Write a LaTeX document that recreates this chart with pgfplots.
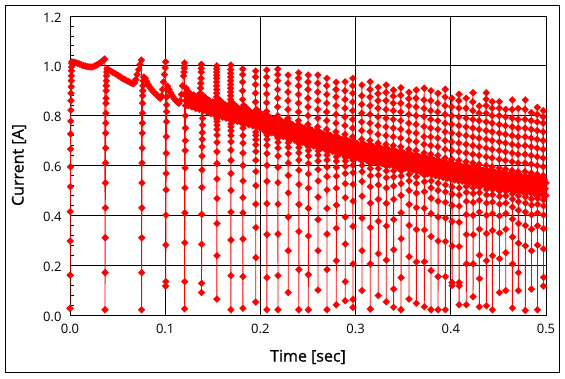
\documentclass[border=0pt]{standalone}
\usepackage{fontspec}
\setmainfont{Open Sans}
\newfontfamily\titlefont[FakeBold=1]{Open Sans}
\usepackage{pgfplots}
\pgfplotsset{compat=1.18}
\begin{document}
\begin{tikzpicture}[x=1pt,y=1pt]
\useasboundingbox (0,0) rectangle (565,379);
\draw[line width=0.9pt] (5,7) rectangle (559,374);
\begin{axis}[
  at={(70pt,64pt)}, anchor=south west,
  scale only axis, width=476pt, height=299pt,
  xmin=0, xmax=0.5, ymin=0, ymax=1.2,
  xtick={0,0.1,0.2,0.3,0.4,0.5},
  ytick={0,0.2,0.4,0.6,0.8,1.0,1.2},
  minor y tick num=4,
  xtick pos=bottom, ytick pos=left,
  tick align=inside,
  major tick length=0pt, minor tick length=4pt,
  grid=major,
  major grid style={black, line width=0.9pt},
  axis line style={black, line width=0.9pt},
  every tick/.style={black, line width=0.8pt},
  /pgf/number format/assume math mode=true,
  xticklabel style={font=\fontsize{13}{15}\selectfont, yshift=-6pt, /pgf/number format/.cd, fixed, fixed zerofill, precision=1},
  yticklabel style={font=\fontsize{13}{15}\selectfont, xshift=-5pt, yshift=-1.5pt, /pgf/number format/.cd, fixed, fixed zerofill, precision=1},
]
% dense band envelope (upper edge, then lower edge back)
\addplot[draw=none, fill=red] coordinates {
(0.122,0.905) (0.130,0.892) (0.140,0.875) (0.150,0.860) (0.175,0.833) (0.200,0.805) (0.225,0.775) (0.250,0.745) (0.275,0.717) (0.300,0.690) (0.325,0.670) (0.350,0.650) (0.375,0.627) (0.400,0.605) (0.425,0.587) (0.450,0.570) (0.475,0.555) (0.500,0.540)
(0.500,0.482) (0.475,0.496) (0.450,0.510) (0.425,0.527) (0.400,0.545) (0.375,0.567) (0.350,0.590) (0.325,0.610) (0.300,0.630) (0.275,0.657) (0.250,0.685) (0.225,0.715) (0.200,0.745) (0.175,0.775) (0.150,0.805) (0.140,0.818) (0.130,0.832) (0.122,0.845)
};
% band samples
\addplot[red, line width=0.8pt, mark=square*, mark size=2.5pt, mark options={rotate=45, fill=red, draw=red, line width=0.1pt}] coordinates {
(0.122,0.893) (0.124,0.840) (0.126,0.888) (0.128,0.835) (0.130,0.883) (0.132,0.830) (0.134,0.878) (0.136,0.825) (0.138,0.873) (0.140,0.820)
(0.142,0.867) (0.144,0.814) (0.146,0.861) (0.148,0.808) (0.150,0.855) (0.152,0.803) (0.154,0.851) (0.156,0.798) (0.158,0.846) (0.160,0.794)
(0.162,0.842) (0.164,0.790) (0.166,0.837) (0.168,0.785) (0.170,0.833) (0.172,0.781) (0.174,0.829) (0.176,0.777) (0.178,0.824) (0.180,0.772)
(0.182,0.820) (0.184,0.768) (0.186,0.816) (0.188,0.763) (0.190,0.811) (0.192,0.759) (0.194,0.807) (0.196,0.755) (0.198,0.802) (0.200,0.750)
(0.202,0.803) (0.204,0.740) (0.206,0.798) (0.208,0.735) (0.210,0.793) (0.212,0.731) (0.214,0.788) (0.216,0.726) (0.218,0.783) (0.220,0.721)
(0.222,0.779) (0.224,0.716) (0.226,0.774) (0.228,0.711) (0.230,0.769) (0.232,0.707) (0.234,0.764) (0.236,0.702) (0.238,0.759) (0.240,0.697)
(0.242,0.755) (0.244,0.692) (0.246,0.750) (0.248,0.687) (0.250,0.745) (0.252,0.683) (0.254,0.741) (0.256,0.678) (0.258,0.736) (0.260,0.674)
(0.262,0.732) (0.264,0.670) (0.266,0.727) (0.268,0.665) (0.270,0.723) (0.272,0.661) (0.274,0.719) (0.276,0.656) (0.278,0.714) (0.280,0.652)
(0.282,0.710) (0.284,0.648) (0.286,0.705) (0.288,0.643) (0.290,0.701) (0.292,0.639) (0.294,0.697) (0.296,0.634) (0.298,0.692) (0.300,0.630)
(0.302,0.688) (0.304,0.627) (0.306,0.685) (0.308,0.624) (0.310,0.682) (0.312,0.620) (0.314,0.679) (0.316,0.617) (0.318,0.676) (0.320,0.614)
(0.322,0.672) (0.324,0.611) (0.326,0.669) (0.328,0.608) (0.330,0.666) (0.332,0.604) (0.334,0.663) (0.336,0.601) (0.338,0.660) (0.340,0.598)
(0.342,0.656) (0.344,0.595) (0.346,0.653) (0.348,0.592) (0.350,0.650) (0.352,0.588) (0.354,0.646) (0.356,0.585) (0.358,0.643) (0.360,0.581)
(0.362,0.639) (0.364,0.577) (0.366,0.636) (0.368,0.574) (0.370,0.632) (0.372,0.570) (0.374,0.628) (0.376,0.567) (0.378,0.625) (0.380,0.563)
(0.382,0.621) (0.384,0.559) (0.386,0.618) (0.388,0.556) (0.390,0.614) (0.392,0.552) (0.394,0.610) (0.396,0.549) (0.398,0.607) (0.400,0.545)
(0.402,0.604) (0.404,0.542) (0.406,0.601) (0.408,0.539) (0.410,0.598) (0.412,0.537) (0.414,0.595) (0.416,0.534) (0.418,0.592) (0.420,0.531)
(0.422,0.590) (0.424,0.528) (0.426,0.587) (0.428,0.525) (0.430,0.584) (0.432,0.523) (0.434,0.581) (0.436,0.520) (0.438,0.578) (0.440,0.517)
(0.442,0.576) (0.444,0.514) (0.446,0.573) (0.448,0.511) (0.450,0.570) (0.452,0.509) (0.454,0.568) (0.456,0.506) (0.458,0.565) (0.460,0.504)
(0.462,0.563) (0.464,0.502) (0.466,0.560) (0.468,0.499) (0.470,0.558) (0.472,0.497) (0.474,0.556) (0.476,0.494) (0.478,0.553) (0.480,0.492)
(0.482,0.551) (0.484,0.490) (0.486,0.548) (0.488,0.487) (0.490,0.546) (0.492,0.485) (0.494,0.544) (0.496,0.482) (0.498,0.541) (0.500,0.480)
};
% measured current with pulses
\addplot[red, line width=0.8pt, mark=square*, mark size=2.5pt, mark options={rotate=45, fill=red, draw=red, line width=0.1pt}] coordinates {
(0,0.027) (0.0001,0.16) (0.0002,0.297) (0.0003,0.415) (0.0004,0.515) (0.0005,0.595) (0.0006,0.666) (0.0007,0.726) (0.0008,0.778) (0.0009,0.822) (0.0010,0.860) (0.0011,0.890) (0.0012,0.916) (0.0013,0.940) (0.0014,0.960) (0.0015,0.980) (0.0016,0.995) (0.0018,1.010)
(0.0020,1.016) (0.0040,1.015) (0.0060,1.013) (0.0080,1.010) (0.0100,1.007) (0.0120,1.004) (0.0140,1.001) (0.0160,0.999) (0.0180,0.997) (0.0200,0.996) (0.0220,0.995) (0.0240,0.996) (0.0260,0.999) (0.0280,1.003) (0.0300,1.008) (0.0320,1.013) (0.0340,1.019) (0.0355,1.024) (0.0365,1.027)
(0.0368,0.021) (0.0369,0.17) (0.0370,0.31) (0.0371,0.43) (0.0372,0.53) (0.0373,0.61) (0.0374,0.67) (0.0375,0.73) (0.0376,0.77) (0.0377,0.81) (0.0378,0.85) (0.0379,0.87) (0.0380,0.90) (0.0381,0.92) (0.0382,0.94) (0.0384,0.96) (0.0386,0.975)
(0.0390,0.988) (0.0410,0.983) (0.0430,0.979) (0.0450,0.974) (0.0470,0.970) (0.0490,0.965) (0.0510,0.960) (0.0530,0.955) (0.0550,0.950) (0.0570,0.946) (0.0590,0.942) (0.0610,0.938) (0.0630,0.934) (0.0650,0.930) (0.0665,0.928) (0.0678,0.932) (0.0690,0.945) (0.0705,0.965) (0.0720,0.985) (0.0735,1.005) (0.0750,1.023)
(0.0752,0.021) (0.0753,0.17) (0.0754,0.31) (0.0755,0.43) (0.0756,0.53) (0.0757,0.61) (0.0758,0.67) (0.0759,0.73) (0.0760,0.77) (0.0761,0.81) (0.0762,0.85) (0.0763,0.88) (0.0764,0.90) (0.0766,0.92) (0.0768,0.94)
(0.0775,0.955) (0.0790,0.950) (0.0805,0.938) (0.0820,0.926) (0.0835,0.916) (0.0850,0.908) (0.0865,0.901) (0.0880,0.895) (0.0895,0.889) (0.0910,0.884) (0.0925,0.878) (0.0940,0.872) (0.0952,0.870) (0.0962,0.880) (0.0972,0.905) (0.0982,0.935) (0.0992,0.965) (0.1000,0.992) (0.1004,1.016)
(0.1005,0.116) (0.1006,0.134) (0.1007,0.281) (0.1008,0.401) (0.1009,0.502) (0.1010,0.568) (0.1011,0.649) (0.1012,0.716) (0.1013,0.776) (0.1014,0.816) (0.1015,0.843) (0.1016,0.875) (0.1018,0.906)
(0.1025,0.918) (0.1040,0.905) (0.1055,0.893) (0.1070,0.883) (0.1085,0.874) (0.1100,0.866) (0.1115,0.859) (0.1130,0.853) (0.1145,0.850) (0.1158,0.860) (0.1170,0.885) (0.1182,0.920) (0.1193,0.960) (0.1197,0.975) (0.1200,0.990) (0.1202,1.000) (0.1203,1.012)
(0.1204,0.025) (0.1205,0.134) (0.1206,0.29) (0.1207,0.41) (0.1208,0.51) (0.1209,0.59) (0.1210,0.66) (0.1211,0.70) (0.1212,0.75) (0.1213,0.80) (0.1214,0.84) (0.1215,0.86) (0.1216,0.88)
(0.1222,0.910) (0.1234,0.872) (0.1246,0.895) (0.1258,0.858) (0.1270,0.880) (0.1282,0.845) (0.1294,0.867) (0.1306,0.835) (0.1318,0.858) (0.1330,0.830) (0.1342,0.852) (0.1354,0.838) (0.1364,0.870) (0.1368,0.890) (0.1371,0.910) (0.1373,0.930) (0.1376,0.950) (0.1378,0.975) (0.1379,0.990) (0.1380,1.006)
(0.1381,0.090) (0.1382,0.127) (0.1383,0.284) (0.1384,0.404) (0.1385,0.512) (0.1386,0.582) (0.1387,0.638) (0.1388,0.675) (0.1389,0.705) (0.1390,0.732) (0.1391,0.762) (0.1392,0.789) (0.1393,0.823)
(0.1400,0.880) (0.1412,0.848) (0.1424,0.872) (0.1436,0.840) (0.1448,0.864) (0.1460,0.832) (0.1472,0.856) (0.1484,0.825) (0.1496,0.849) (0.1508,0.818) (0.1520,0.842) (0.1532,0.812)
(0.1540,0.86) (0.1540,0.875) (0.1540,0.89) (0.1540,0.905) (0.1540,0.92) (0.1540,0.935) (0.1540,0.95) (0.1540,0.962) (0.1540,0.975) (0.1541,0.988) (0.1542,1.000) (0.1543,0.064) (0.1544,0.238) (0.1544,0.367) (0.1544,0.468) (0.1544,0.546) (0.1544,0.608) (0.1544,0.655) (0.1544,0.693) (0.1544,0.722) (0.1544,0.745) (0.1544,0.762) (0.1544,0.776) (0.1544,0.787)
(0.1552,0.870) (0.1565,0.835) (0.1578,0.860) (0.1591,0.826) (0.1604,0.851) (0.1617,0.818) (0.1630,0.843) (0.1643,0.810) (0.1656,0.835) (0.1669,0.803) (0.1681,0.826)
(0.1687,0.85) (0.1687,0.865) (0.1687,0.88) (0.1687,0.895) (0.1687,0.91) (0.1687,0.925) (0.1687,0.94) (0.1687,0.955) (0.1687,0.97) (0.1688,0.985) (0.1689,1.003) (0.1690,0.021) (0.1691,0.158) (0.1691,0.301) (0.1691,0.413) (0.1691,0.500) (0.1691,0.568) (0.1691,0.621) (0.1691,0.662) (0.1691,0.695) (0.1691,0.720) (0.1691,0.739) (0.1691,0.755) (0.1691,0.767)
(0.1698,0.855) (0.1711,0.820) (0.1724,0.845) (0.1737,0.811) (0.1750,0.836) (0.1763,0.802) (0.1776,0.827) (0.1789,0.794) (0.1802,0.818)
(0.1813,0.83) (0.1813,0.865) (0.1813,0.90) (0.1813,0.935) (0.1813,0.965) (0.1815,0.987) (0.1816,0.027) (0.1817,0.154) (0.1817,0.305) (0.1817,0.410) (0.1817,0.471) (0.1817,0.538) (0.1817,0.600) (0.1817,0.650) (0.1817,0.690) (0.1817,0.720) (0.1817,0.750) (0.1817,0.770)
(0.1824,0.842) (0.1837,0.806) (0.1850,0.832) (0.1863,0.797) (0.1876,0.822) (0.1889,0.789) (0.1902,0.813) (0.1915,0.781) (0.1928,0.805) (0.1941,0.774)
(0.1948,0.82) (0.1948,0.855) (0.1948,0.89) (0.1948,0.925) (0.1948,0.955) (0.1950,0.979) (0.1951,0.052) (0.1952,0.230) (0.1952,0.351) (0.1952,0.445) (0.1952,0.519) (0.1952,0.576) (0.1952,0.621) (0.1952,0.656) (0.1952,0.683) (0.1952,0.704) (0.1952,0.721) (0.1952,0.734)
(0.1959,0.825) (0.1972,0.790) (0.1985,0.815) (0.1998,0.781) (0.2011,0.805) (0.2024,0.772) (0.2037,0.796) (0.2050,0.764) (0.2060,0.785)
(0.2065,0.817) (0.2065,0.852) (0.2065,0.887) (0.2065,0.922) (0.2065,0.955) (0.2067,0.983) (0.2068,0.021) (0.2069,0.150) (0.2069,0.323) (0.2069,0.447) (0.2069,0.537) (0.2069,0.601) (0.2069,0.648) (0.2069,0.681) (0.2069,0.705) (0.2069,0.722)
(0.2076,0.800) (0.2089,0.748) (0.2102,0.790) (0.2115,0.742) (0.2128,0.782) (0.2141,0.736) (0.2154,0.775) (0.2167,0.730) (0.2177,0.765)
(0.2181,0.80) (0.2181,0.835) (0.2181,0.87) (0.2181,0.905) (0.2181,0.94) (0.2181,0.965) (0.2183,0.987) (0.2184,0.021) (0.2185,0.158) (0.2185,0.325) (0.2185,0.445) (0.2185,0.531) (0.2185,0.593) (0.2185,0.638) (0.2185,0.670) (0.2185,0.693) (0.2185,0.710)
(0.2192,0.786) (0.2205,0.736) (0.2218,0.777) (0.2231,0.730) (0.2244,0.770) (0.2257,0.724) (0.2270,0.763) (0.2283,0.720)
(0.2289,0.79) (0.2289,0.825) (0.2289,0.86) (0.2289,0.895) (0.2289,0.93) (0.2291,0.963) (0.2292,0.090) (0.2293,0.258) (0.2293,0.393) (0.2293,0.490) (0.2293,0.560) (0.2293,0.610) (0.2293,0.647) (0.2293,0.673) (0.2293,0.692)
(0.2300,0.773) (0.2313,0.724) (0.2326,0.765) (0.2339,0.718) (0.2352,0.758) (0.2365,0.712) (0.2378,0.751) (0.2391,0.708)
(0.2400,0.78) (0.2400,0.815) (0.2400,0.85) (0.2400,0.885) (0.2400,0.92) (0.2400,0.95) (0.2402,0.972) (0.2403,0.021) (0.2404,0.182) (0.2404,0.335) (0.2404,0.444) (0.2404,0.524) (0.2404,0.581) (0.2404,0.622) (0.2404,0.651) (0.2404,0.672) (0.2404,0.688)
(0.2411,0.760) (0.2424,0.711) (0.2437,0.752) (0.2450,0.705) (0.2463,0.745) (0.2476,0.700) (0.2489,0.738) (0.2497,0.698)
(0.2500,0.765) (0.2500,0.80) (0.2500,0.835) (0.2500,0.87) (0.2500,0.905) (0.2500,0.935) (0.2502,0.963) (0.2503,0.021) (0.2504,0.162) (0.2504,0.317) (0.2504,0.428) (0.2504,0.509) (0.2504,0.566) (0.2504,0.608) (0.2504,0.638) (0.2504,0.660) (0.2504,0.675)
(0.2511,0.748) (0.2524,0.700) (0.2537,0.741) (0.2550,0.694) (0.2563,0.734) (0.2576,0.689) (0.2589,0.727) (0.2598,0.686)
(0.2602,0.755) (0.2602,0.79) (0.2602,0.825) (0.2602,0.86) (0.2602,0.895) (0.2602,0.93) (0.2604,0.963) (0.2605,0.100) (0.2606,0.258) (0.2606,0.383) (0.2606,0.473) (0.2606,0.538) (0.2606,0.584) (0.2606,0.618) (0.2606,0.642) (0.2606,0.659)
(0.2613,0.737) (0.2626,0.689) (0.2639,0.730) (0.2652,0.683) (0.2665,0.722) (0.2678,0.677) (0.2691,0.715)
(0.2696,0.745) (0.2696,0.78) (0.2696,0.815) (0.2696,0.85) (0.2696,0.885) (0.2696,0.92) (0.2698,0.950) (0.2699,0.021) (0.2700,0.182) (0.2700,0.325) (0.2700,0.428) (0.2700,0.502) (0.2700,0.556) (0.2700,0.594) (0.2700,0.622) (0.2700,0.642)
(0.2707,0.726) (0.2720,0.678) (0.2733,0.719) (0.2746,0.672) (0.2759,0.712) (0.2772,0.667) (0.2785,0.705)
(0.2794,0.735) (0.2794,0.77) (0.2794,0.805) (0.2794,0.84) (0.2794,0.875) (0.2794,0.905) (0.2796,0.934) (0.2797,0.041) (0.2798,0.218) (0.2798,0.348) (0.2798,0.441) (0.2798,0.509) (0.2798,0.557) (0.2798,0.592) (0.2798,0.617) (0.2798,0.635)
(0.2805,0.715) (0.2818,0.668) (0.2831,0.708) (0.2844,0.662) (0.2857,0.701) (0.2870,0.657) (0.2883,0.694)
(0.2888,0.725) (0.2888,0.76) (0.2888,0.795) (0.2888,0.83) (0.2888,0.865) (0.2888,0.90) (0.2890,0.936) (0.2891,0.057) (0.2892,0.134) (0.2892,0.285) (0.2892,0.393) (0.2892,0.471) (0.2892,0.527) (0.2892,0.568) (0.2892,0.597) (0.2892,0.618) (0.2892,0.633)
(0.2899,0.704) (0.2912,0.657) (0.2925,0.697) (0.2938,0.652) (0.2951,0.690) (0.2964,0.648)
(0.2969,0.715) (0.2969,0.75) (0.2969,0.785) (0.2969,0.82) (0.2969,0.855) (0.2969,0.89) (0.2969,0.92) (0.2971,0.950) (0.2972,0.030) (0.2973,0.063) (0.2973,0.205) (0.2973,0.356) (0.2973,0.457) (0.2973,0.525) (0.2973,0.571) (0.2973,0.601) (0.2973,0.622)
(0.2980,0.695) (0.2993,0.650) (0.3006,0.688) (0.3019,0.645) (0.3032,0.682) (0.3045,0.640) (0.3058,0.676)
(0.3064,0.705) (0.3064,0.74) (0.3064,0.775) (0.3064,0.81) (0.3064,0.845) (0.3064,0.88) (0.3066,0.923) (0.3067,0.098) (0.3068,0.258) (0.3068,0.389) (0.3068,0.477) (0.3068,0.536) (0.3068,0.575) (0.3068,0.601) (0.3068,0.619)
(0.3075,0.688) (0.3088,0.643) (0.3101,0.681) (0.3114,0.638) (0.3127,0.675) (0.3140,0.634)
(0.3151,0.70) (0.3151,0.735) (0.3151,0.77) (0.3151,0.805) (0.3151,0.84) (0.3151,0.875) (0.3151,0.905) (0.3153,0.936) (0.3154,0.024) (0.3155,0.205) (0.3155,0.351) (0.3155,0.449) (0.3155,0.515) (0.3155,0.559) (0.3155,0.588) (0.3155,0.608)
(0.3162,0.680) (0.3175,0.636) (0.3188,0.674) (0.3201,0.631) (0.3214,0.668) (0.3227,0.627)
(0.3235,0.69) (0.3235,0.725) (0.3235,0.76) (0.3235,0.795) (0.3235,0.83) (0.3235,0.86) (0.3235,0.888) (0.3237,0.914) (0.3238,0.078) (0.3239,0.246) (0.3239,0.376) (0.3239,0.464) (0.3239,0.522) (0.3239,0.561) (0.3239,0.588) (0.3239,0.605)
(0.3246,0.673) (0.3259,0.629) (0.3272,0.667) (0.3285,0.624) (0.3298,0.661) (0.3311,0.620)
(0.3319,0.685) (0.3319,0.72) (0.3319,0.755) (0.3319,0.79) (0.3319,0.825) (0.3319,0.86) (0.3319,0.893) (0.3321,0.923) (0.3322,0.053) (0.3323,0.220) (0.3323,0.357) (0.3323,0.448) (0.3323,0.510) (0.3323,0.551) (0.3323,0.578) (0.3323,0.597)
(0.3330,0.666) (0.3343,0.623) (0.3356,0.660) (0.3369,0.618) (0.3382,0.655) (0.3392,0.615)
(0.3396,0.68) (0.3396,0.715) (0.3396,0.75) (0.3396,0.785) (0.3396,0.82) (0.3396,0.85) (0.3396,0.878) (0.3398,0.903) (0.3399,0.031) (0.3400,0.104) (0.3400,0.262) (0.3400,0.383) (0.3400,0.464) (0.3400,0.518) (0.3400,0.554) (0.3400,0.579)
(0.3407,0.660) (0.3420,0.617) (0.3433,0.654) (0.3446,0.612) (0.3459,0.649) (0.3470,0.609)
(0.3474,0.675) (0.3474,0.71) (0.3474,0.745) (0.3474,0.78) (0.3474,0.815) (0.3474,0.85) (0.3474,0.882) (0.3476,0.912) (0.3477,0.021) (0.3478,0.150) (0.3478,0.306) (0.3478,0.410) (0.3478,0.480) (0.3478,0.527) (0.3478,0.558) (0.3478,0.579)
(0.3485,0.654) (0.3498,0.611) (0.3511,0.648) (0.3524,0.606) (0.3537,0.643) (0.3550,0.602)
(0.3558,0.665) (0.3558,0.70) (0.3558,0.735) (0.3558,0.77) (0.3558,0.805) (0.3558,0.84) (0.3558,0.868) (0.3560,0.894) (0.3561,0.064) (0.3562,0.234) (0.3562,0.360) (0.3562,0.444) (0.3562,0.500) (0.3562,0.538) (0.3562,0.564)
(0.3569,0.647) (0.3582,0.604) (0.3595,0.641) (0.3608,0.599) (0.3621,0.636) (0.3631,0.596)
(0.3635,0.66) (0.3635,0.695) (0.3635,0.73) (0.3635,0.765) (0.3635,0.80) (0.3635,0.835) (0.3635,0.87) (0.3637,0.903) (0.3638,0.047) (0.3639,0.213) (0.3639,0.343) (0.3639,0.431) (0.3639,0.489) (0.3639,0.528) (0.3639,0.555)
(0.3646,0.640) (0.3659,0.597) (0.3672,0.634) (0.3685,0.592) (0.3698,0.628) (0.3711,0.588)
(0.3719,0.65) (0.3719,0.685) (0.3719,0.716) (0.3719,0.756) (0.3719,0.796) (0.3719,0.829) (0.3719,0.863) (0.3721,0.910) (0.3722,0.033) (0.3723,0.214) (0.3723,0.341) (0.3723,0.428) (0.3723,0.495) (0.3723,0.535) (0.3723,0.561)
(0.3730,0.632) (0.3743,0.590) (0.3756,0.627) (0.3769,0.585) (0.3782,0.622)
(0.3789,0.645) (0.3789,0.68) (0.3789,0.715) (0.3789,0.75) (0.3789,0.785) (0.3789,0.82) (0.3789,0.86) (0.3791,0.900) (0.3792,0.021) (0.3793,0.178) (0.3793,0.315) (0.3793,0.407) (0.3793,0.469) (0.3793,0.510) (0.3793,0.538)
(0.3800,0.626) (0.3813,0.583) (0.3826,0.620) (0.3839,0.578) (0.3852,0.615) (0.3860,0.576)
(0.3863,0.64) (0.3863,0.675) (0.3863,0.71) (0.3863,0.745) (0.3863,0.78) (0.3863,0.815) (0.3863,0.85) (0.3865,0.890) (0.3866,0.021) (0.3867,0.154) (0.3867,0.297) (0.3867,0.393) (0.3867,0.457) (0.3867,0.500) (0.3867,0.529)
(0.3874,0.619) (0.3887,0.576) (0.3900,0.613) (0.3913,0.571) (0.3926,0.608) (0.3936,0.568)
(0.3940,0.63) (0.3940,0.665) (0.3940,0.70) (0.3940,0.735) (0.3940,0.77) (0.3940,0.805) (0.3940,0.84) (0.3940,0.875) (0.3942,0.906) (0.3943,0.021) (0.3944,0.154) (0.3944,0.295) (0.3944,0.389) (0.3944,0.452) (0.3944,0.494) (0.3944,0.522)
(0.3951,0.612) (0.3964,0.569) (0.3977,0.606) (0.3990,0.565) (0.4003,0.601)
(0.4010,0.625) (0.4010,0.66) (0.4010,0.695) (0.4010,0.73) (0.4010,0.765) (0.4010,0.80) (0.4010,0.835) (0.4012,0.870) (0.4013,0.118) (0.4014,0.130) (0.4014,0.277) (0.4014,0.375) (0.4014,0.440) (0.4014,0.485) (0.4014,0.514)
(0.4021,0.606) (0.4034,0.564) (0.4047,0.600) (0.4060,0.560) (0.4073,0.596)
(0.4084,0.62) (0.4084,0.655) (0.4084,0.69) (0.4084,0.725) (0.4084,0.76) (0.4084,0.795) (0.4084,0.83) (0.4084,0.86) (0.4086,0.886) (0.4087,0.041) (0.4088,0.117) (0.4088,0.130) (0.4088,0.275) (0.4088,0.372) (0.4088,0.437) (0.4088,0.481) (0.4088,0.510)
(0.4095,0.600) (0.4108,0.559) (0.4121,0.595) (0.4134,0.555) (0.4147,0.591) (0.4156,0.553)
(0.4160,0.615) (0.4160,0.65) (0.4160,0.685) (0.4160,0.72) (0.4160,0.755) (0.4160,0.79) (0.4160,0.83) (0.4162,0.870) (0.4163,0.041) (0.4164,0.205) (0.4164,0.323) (0.4164,0.403) (0.4164,0.456) (0.4164,0.492) (0.4164,0.516)
(0.4171,0.595) (0.4184,0.554) (0.4197,0.590) (0.4210,0.550) (0.4223,0.586)
(0.4231,0.61) (0.4231,0.645) (0.4231,0.68) (0.4231,0.715) (0.4231,0.75) (0.4231,0.785) (0.4231,0.82) (0.4231,0.855) (0.4233,0.892) (0.4234,0.073) (0.4235,0.205) (0.4235,0.322) (0.4235,0.400) (0.4235,0.452) (0.4235,0.488) (0.4235,0.511)
(0.4242,0.590) (0.4255,0.549) (0.4268,0.585) (0.4281,0.545) (0.4292,0.581)
(0.4297,0.605) (0.4297,0.64) (0.4297,0.675) (0.4297,0.71) (0.4297,0.745) (0.4297,0.78) (0.4297,0.81) (0.4299,0.839) (0.4300,0.033) (0.4301,0.146) (0.4301,0.240) (0.4301,0.344) (0.4301,0.413) (0.4301,0.460) (0.4301,0.491) (0.4301,0.512)
(0.4308,0.585) (0.4321,0.545) (0.4334,0.580) (0.4347,0.541) (0.4360,0.576)
(0.4371,0.60) (0.4371,0.635) (0.4371,0.67) (0.4371,0.705) (0.4371,0.74) (0.4371,0.775) (0.4371,0.81) (0.4371,0.84) (0.4371,0.866) (0.4373,0.892) (0.4374,0.037) (0.4375,0.218) (0.4375,0.327) (0.4375,0.400) (0.4375,0.449) (0.4375,0.482) (0.4375,0.504)
(0.4382,0.580) (0.4395,0.540) (0.4408,0.576) (0.4421,0.536) (0.4430,0.572)
(0.4434,0.595) (0.4434,0.63) (0.4434,0.665) (0.4434,0.70) (0.4434,0.735) (0.4434,0.77) (0.4434,0.80) (0.4434,0.83) (0.4436,0.856) (0.4437,0.021) (0.4438,0.238) (0.4438,0.339) (0.4438,0.407) (0.4438,0.453) (0.4438,0.483) (0.4438,0.504)
(0.4445,0.576) (0.4458,0.536) (0.4471,0.571) (0.4484,0.532) (0.4497,0.567)
(0.4508,0.59) (0.4508,0.625) (0.4508,0.66) (0.4508,0.695) (0.4508,0.73) (0.4508,0.765) (0.4508,0.80) (0.4508,0.83) (0.4510,0.856) (0.4511,0.090) (0.4512,0.226) (0.4512,0.329) (0.4512,0.398) (0.4512,0.445) (0.4512,0.476) (0.4512,0.497)
(0.4519,0.570) (0.4532,0.530) (0.4545,0.566) (0.4558,0.527) (0.4569,0.563)
(0.4574,0.585) (0.4574,0.62) (0.4574,0.655) (0.4574,0.69) (0.4574,0.725) (0.4574,0.76) (0.4574,0.795) (0.4576,0.825) (0.4577,0.098) (0.4578,0.250) (0.4578,0.344) (0.4578,0.407) (0.4578,0.449) (0.4578,0.478) (0.4578,0.497)
(0.4585,0.566) (0.4598,0.527) (0.4611,0.562) (0.4624,0.523) (0.4637,0.558)
(0.4644,0.58) (0.4644,0.615) (0.4644,0.65) (0.4644,0.685) (0.4644,0.72) (0.4644,0.755) (0.4644,0.79) (0.4644,0.825) (0.4646,0.863) (0.4647,0.028) (0.4648,0.205) (0.4648,0.313) (0.4648,0.385) (0.4648,0.433) (0.4648,0.465) (0.4648,0.487)
(0.4655,0.562) (0.4668,0.523) (0.4681,0.558) (0.4694,0.520) (0.4703,0.555)
(0.4707,0.575) (0.4707,0.61) (0.4707,0.645) (0.4707,0.68) (0.4707,0.715) (0.4707,0.75) (0.4707,0.785) (0.4709,0.829) (0.4710,0.098) (0.4711,0.170) (0.4711,0.288) (0.4711,0.367) (0.4711,0.420) (0.4711,0.455) (0.4711,0.479)
(0.4718,0.558) (0.4731,0.519) (0.4744,0.554) (0.4757,0.516) (0.4770,0.551)
(0.4780,0.575) (0.4780,0.61) (0.4780,0.645) (0.4780,0.68) (0.4780,0.715) (0.4780,0.75) (0.4780,0.785) (0.4780,0.825) (0.4782,0.863) (0.4783,0.018) (0.4784,0.278) (0.4784,0.359) (0.4784,0.413) (0.4784,0.449) (0.4784,0.474)
(0.4791,0.554) (0.4804,0.516) (0.4817,0.550) (0.4830,0.512) (0.4840,0.547)
(0.4844,0.57) (0.4844,0.605) (0.4844,0.64) (0.4844,0.675) (0.4844,0.71) (0.4844,0.745) (0.4844,0.78) (0.4846,0.812) (0.4847,0.104) (0.4848,0.258) (0.4848,0.344) (0.4848,0.402) (0.4848,0.441) (0.4848,0.466)
(0.4855,0.550) (0.4868,0.512) (0.4881,0.546) (0.4894,0.509) (0.4903,0.543)
(0.4907,0.565) (0.4907,0.60) (0.4907,0.635) (0.4907,0.67) (0.4907,0.705) (0.4907,0.74) (0.4907,0.775) (0.4907,0.805) (0.4909,0.833) (0.4910,0.021) (0.4911,0.280) (0.4911,0.358) (0.4911,0.409) (0.4911,0.444) (0.4911,0.468)
(0.4918,0.546) (0.4931,0.509) (0.4944,0.542) (0.4957,0.506) (0.4966,0.539)
(0.4970,0.56) (0.4970,0.595) (0.4970,0.63) (0.4970,0.665) (0.4970,0.70) (0.4970,0.735) (0.4970,0.77) (0.4970,0.795) (0.4972,0.820) (0.4973,0.116) (0.4974,0.151) (0.4974,0.265) (0.4974,0.347) (0.4974,0.401) (0.4974,0.438) (0.4974,0.462)
(0.4981,0.543) (0.4991,0.506) (0.5000,0.530)
};
\end{axis}
\node[font=\titlefont\fontsize{16}{19}\selectfont] at (308,22) {Time [sec]};
\node[font=\titlefont\fontsize{16}{19}\selectfont, rotate=90] at (19,214) {Current [A]};
\end{tikzpicture}
\end{document}
